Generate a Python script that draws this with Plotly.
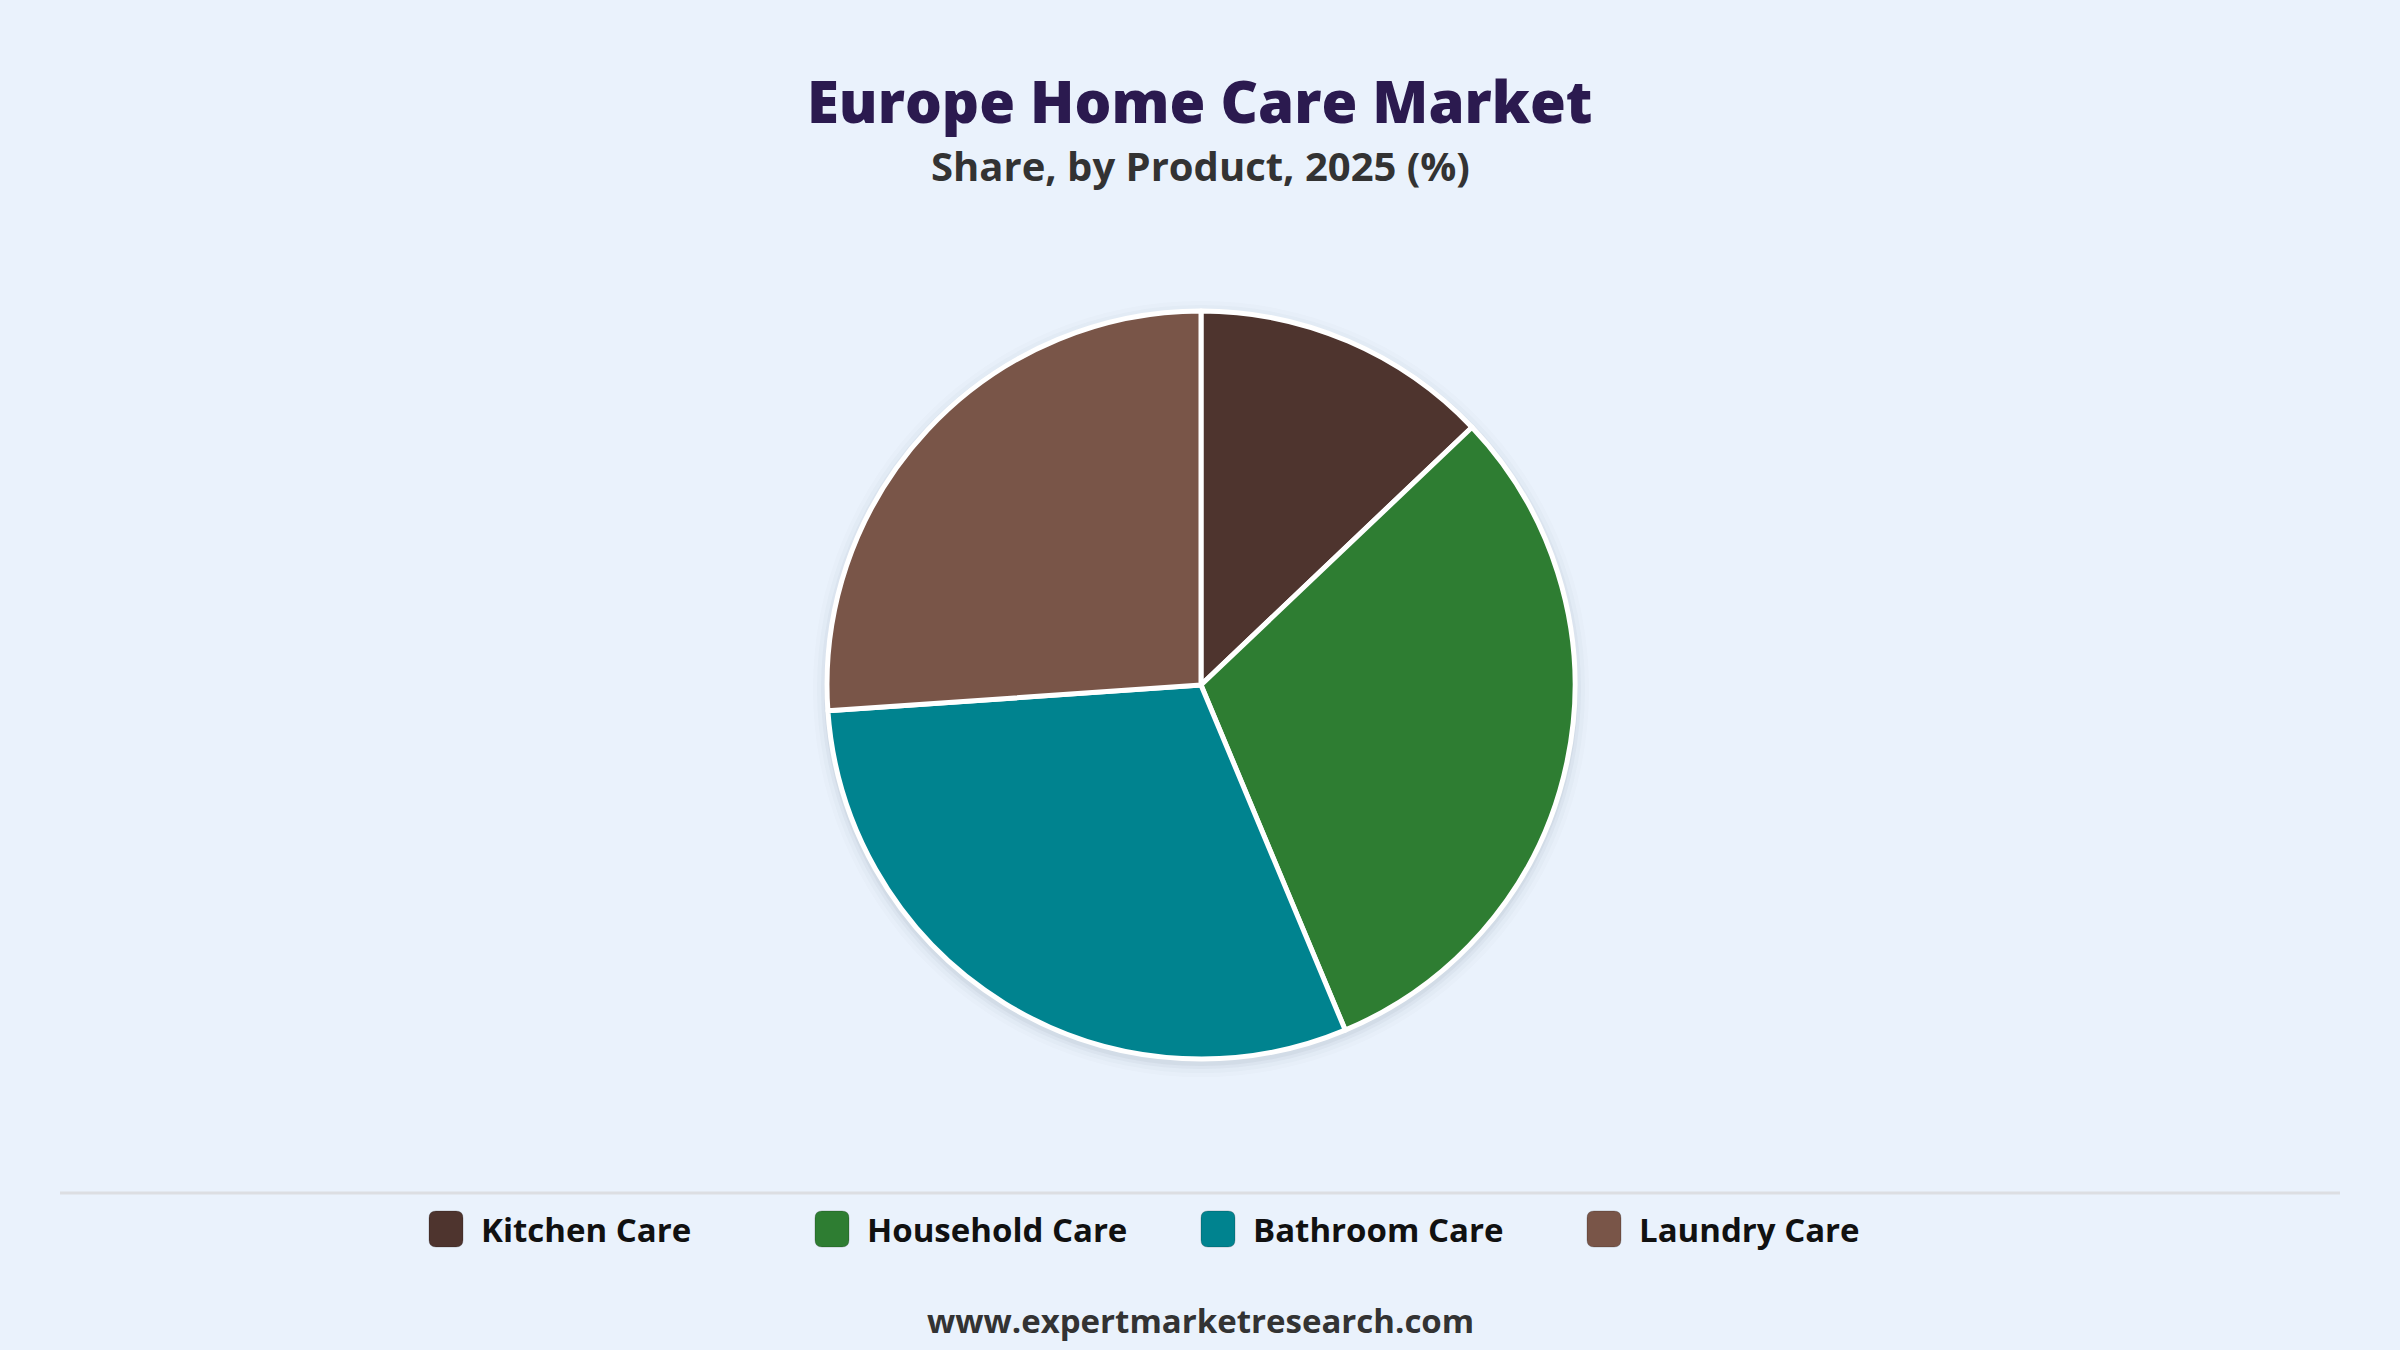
import plotly.graph_objects as go

# --- DATOS ---
PRODUCTOS = ["Kitchen Care", "Household Care", "Bathroom Care", "Laundry Care"]
CUOTA = [12.9, 30.8, 30.2, 26.1]
COLORES = ["#4E342E", "#2E7D32", "#00838F", "#795548"]

TITULO = "Europe Home Care Market"
SUBTITULO = "Share, by Product, 2025 (%)"
PIE_WEB = "www.expertmarketresearch.com"

W, H = 2400, 1350
FUENTE = "Open Sans, Noto Sans, sans-serif"
FONDO = "#EAF2FC"

# dominio del pie (en fracciones de papel)
CX, CY, R = 1201, 685, 374
DOM_X = [(CX - R) / W, (CX + R) / W]
DOM_Y = [(H - CY - R) / H, (H - CY + R) / H]


def px(x):
    return x / W


def py(y):
    return 1 - y / H


fig = go.Figure()

fig.add_trace(
    go.Pie(
        labels=PRODUCTOS,
        values=CUOTA,
        sort=False,
        direction="clockwise",
        rotation=0,
        textinfo="none",
        hovertemplate="<b>%{label}</b><br>%{value:.1f}%<extra></extra>",
        marker=dict(colors=COLORES, line=dict(color="white", width=5)),
        domain=dict(x=DOM_X, y=DOM_Y),
        showlegend=False,
    )
)

# --- SOMBRA SUAVE DEL PIE ---
for extra, alpha in [(14, 0.015), (10, 0.025), (6, 0.04), (3, 0.05)]:
    fig.add_shape(
        type="circle",
        xref="paper", yref="paper",
        x0=px(CX - R - extra), x1=px(CX + R + extra),
        y0=py(CY + 4 + R + extra), y1=py(CY + 4 - R - extra),
        fillcolor=f"rgba(60,70,90,{alpha})",
        line_width=0,
        layer="below",
    )

# --- TITULOS ---
fig.add_annotation(
    xref="paper", yref="paper", x=0.5, y=py(100),
    text=TITULO, showarrow=False,
    font=dict(family=FUENTE, size=58, color="#2B1A4F", weight=800),
    xanchor="center", yanchor="middle",
)
fig.add_annotation(
    xref="paper", yref="paper", x=0.5, y=py(165),
    text=SUBTITULO, showarrow=False,
    font=dict(family=FUENTE, size=40, color="#333333", weight=700),
    xanchor="center", yanchor="middle",
)

# --- LINEA SEPARADORA ---
fig.add_shape(
    type="line", xref="paper", yref="paper",
    x0=px(60), x1=px(2340), y0=py(1193), y1=py(1193),
    line=dict(color="#DCDEE2", width=3),
)

# --- LEYENDA MANUAL ---
LEY_X0 = 429
LEY_PASO = 386
LEY_Y = 1229
LADO = 34
for i, (prod, col) in enumerate(zip(PRODUCTOS, COLORES)):
    x0 = LEY_X0 + i * LEY_PASO
    x1 = x0 + LADO
    y0, y1 = LEY_Y - LADO / 2 - 1, LEY_Y + LADO / 2 + 1
    r = 7
    # rectangulo redondeado en coordenadas de papel
    pts = [
        ("M", x0 + r, y0), ("L", x1 - r, y0), ("Q", x1, y0, x1, y0 + r),
        ("L", x1, y1 - r), ("Q", x1, y1, x1 - r, y1), ("L", x0 + r, y1),
        ("Q", x0, y1, x0, y1 - r), ("L", x0, y0 + r), ("Q", x0, y0, x0 + r, y0),
    ]
    path = ""
    for p in pts:
        coords = p[1:]
        conv = []
        for k in range(0, len(coords), 2):
            conv.append(f"{px(coords[k]):.5f},{py(coords[k + 1]):.5f}")
        path += f"{p[0]} " + " ".join(conv) + " "
    path += "Z"
    fig.add_shape(
        type="path", xref="paper", yref="paper", path=path,
        fillcolor=col, line=dict(color="rgba(0,0,0,0.2)", width=1),
    )
    fig.add_annotation(
        xref="paper", yref="paper", x=px(x1 + 16), y=py(LEY_Y),
        text=prod, showarrow=False,
        font=dict(family=FUENTE, size=33, color="#111111", weight=700),
        xanchor="left", yanchor="middle",
    )

# --- PIE DE PAGINA ---
fig.add_annotation(
    xref="paper", yref="paper", x=0.5, y=py(1320),
    text=PIE_WEB, showarrow=False,
    font=dict(family=FUENTE, size=33, color="#333333", weight=700),
    xanchor="center", yanchor="middle",
)

fig.update_layout(
    width=W, height=H,
    margin=dict(l=0, r=0, t=0, b=0),
    paper_bgcolor=FONDO,
    plot_bgcolor=FONDO,
    showlegend=False,
)

fig.write_html(
    "out.html",
    config={"displayModeBar": False},
    post_script=(
        "document.body.style.margin='0';"
        f"document.body.style.background='{FONDO}';"
    ),
)
